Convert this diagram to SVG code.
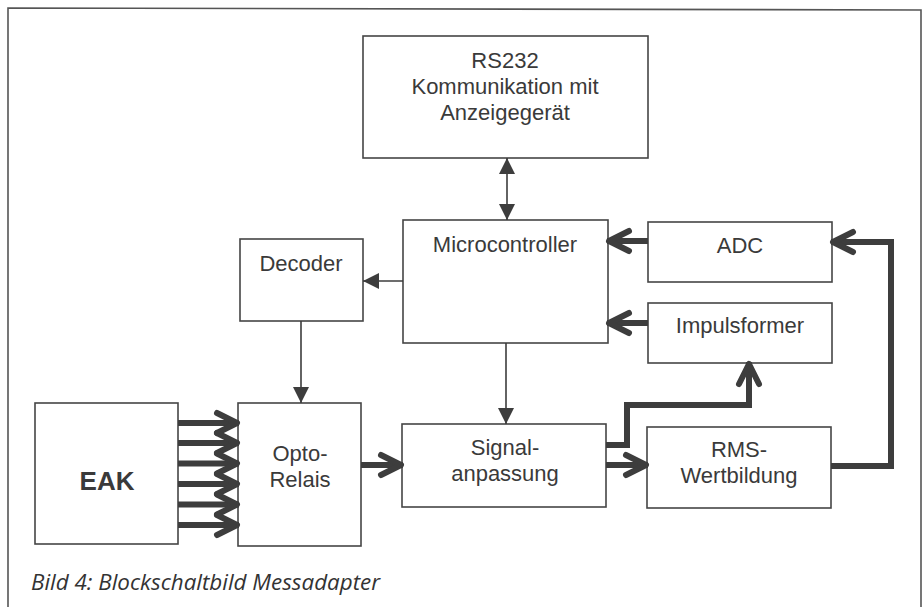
<svg xmlns="http://www.w3.org/2000/svg" width="924" height="607" viewBox="0 0 924 607">
<style>
.box{fill:#fff;stroke:#454545;stroke-width:1.6}
.lbl{font-family:"Liberation Sans",Arial,sans-serif;font-size:22px;fill:#3a3a3a;text-anchor:middle}
.thin{fill:none;stroke:#3d3d3d;stroke-width:1.6}
.thick{fill:none;stroke:#3d3d3d;stroke-width:6}
.frame{fill:none;stroke:#555;stroke-width:1.6}
</style>
<defs>
<marker id="tri" markerUnits="userSpaceOnUse" markerWidth="40" markerHeight="40" viewBox="-20 -20 40 40" refX="0" refY="0" orient="auto-start-reverse" overflow="visible">
<path d="M-16,-8 L0,0 L-16,8 Z" fill="#3d3d3d"/>
</marker>
<marker id="chev" markerUnits="userSpaceOnUse" markerWidth="60" markerHeight="60" viewBox="-30 -30 60 60" refX="0" refY="0" orient="auto" overflow="visible">
<path d="M-22,-10 L-2,0 L-22,10" fill="none" stroke="#3d3d3d" stroke-width="6" stroke-linejoin="round" stroke-linecap="round"/>
</marker>
</defs>
<rect width="924" height="607" fill="#fff"/>
<path class="frame" d="M8,607 V8 L921,10 V607"/>

<g id="rs232">
<rect class="box" x="363" y="36" width="285" height="122"/>
<text class="lbl" x="505" y="68">RS232</text>
<text class="lbl" x="505" y="94">Kommunikation mit</text>
<text class="lbl" x="505" y="120">Anzeigegerät</text>
</g>
<g id="microcontroller">
<rect class="box" x="403" y="220" width="205" height="123"/>
<text class="lbl" x="505" y="252">Microcontroller</text>
</g>
<g id="decoder">
<rect class="box" x="240" y="239" width="123" height="82"/>
<text class="lbl" x="301" y="271">Decoder</text>
</g>
<g id="adc">
<rect class="box" x="648" y="222" width="184" height="60"/>
<text class="lbl" x="740" y="253">ADC</text>
</g>
<g id="impulsformer">
<rect class="box" x="648" y="303" width="184" height="60"/>
<text class="lbl" x="740" y="333">Impulsformer</text>
</g>
<g id="eak">
<rect class="box" x="35" y="403" width="143" height="141"/>
<text class="lbl" x="107" y="490" style="font-weight:bold;font-size:26px">EAK</text>
</g>
<g id="optorelais">
<rect class="box" x="238" y="403" width="123" height="143"/>
<text class="lbl" x="300" y="461">Opto-</text>
<text class="lbl" x="300" y="487">Relais</text>
</g>
<g id="signalanpassung">
<rect class="box" x="402" y="424" width="204" height="83"/>
<text class="lbl" x="505" y="455">Signal-</text>
<text class="lbl" x="505" y="481">anpassung</text>
</g>
<g id="rms">
<rect class="box" x="647" y="427" width="184" height="81"/>
<text class="lbl" x="739" y="457">RMS-</text>
<text class="lbl" x="739" y="483">Wertbildung</text>
</g>

<g id="connectors">
<line class="thin" x1="507" y1="158" x2="507" y2="220" marker-start="url(#tri)" marker-end="url(#tri)"/>
<line class="thin" x1="403" y1="281" x2="363" y2="281" marker-end="url(#tri)"/>
<line class="thin" x1="301" y1="321" x2="301" y2="403" marker-end="url(#tri)"/>
<line class="thin" x1="506" y1="343" x2="506" y2="424" marker-end="url(#tri)"/>
<line class="thick" x1="178" y1="423" x2="239" y2="423" marker-end="url(#chev)"/>
<line class="thick" x1="178" y1="443" x2="239" y2="443" marker-end="url(#chev)"/>
<line class="thick" x1="178" y1="463.5" x2="239" y2="463.5" marker-end="url(#chev)"/>
<line class="thick" x1="178" y1="484" x2="239" y2="484" marker-end="url(#chev)"/>
<line class="thick" x1="178" y1="504.5" x2="239" y2="504.5" marker-end="url(#chev)"/>
<line class="thick" x1="178" y1="525" x2="239" y2="525" marker-end="url(#chev)"/>
<line class="thick" x1="361" y1="465" x2="403" y2="465" marker-end="url(#chev)"/>
<line class="thick" x1="606" y1="465" x2="648" y2="465" marker-end="url(#chev)"/>
<path class="thick" d="M606,445 H627 V405 H749 V362" marker-end="url(#chev)"/>
<line class="thick" x1="648" y1="241" x2="607" y2="241" marker-end="url(#chev)"/>
<line class="thick" x1="648" y1="323" x2="607" y2="323" marker-end="url(#chev)"/>
<path class="thick" d="M831,466 H891 V242 H831" marker-end="url(#chev)"/>
</g>

<text x="31" y="590" textLength="349" lengthAdjust="spacingAndGlyphs" style="font-family:'Open Sans','DejaVu Sans',sans-serif;font-style:italic;font-size:21px;fill:#333">Bild 4: Blockschaltbild Messadapter</text>
</svg>
